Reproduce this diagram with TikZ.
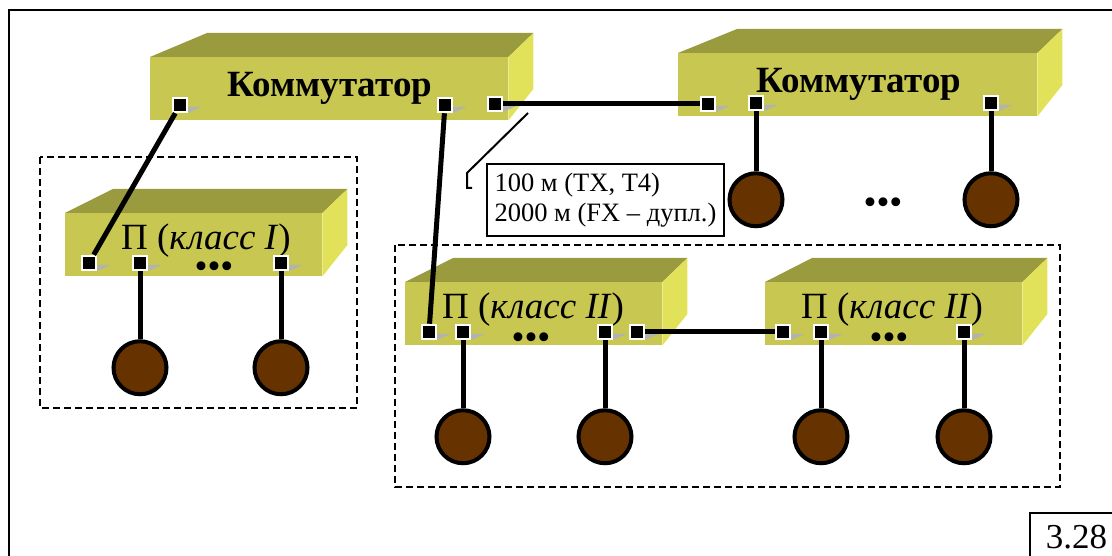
\documentclass[tikz,border=0pt]{standalone}
\usepackage{fontspec}
\setmainfont{Liberation Serif}
\usepackage{tikz}
\usetikzlibrary{positioning}

\definecolor{boxfront}{RGB}{199,199,82}
\definecolor{boxtop}{RGB}{154,154,62}
\definecolor{boxside}{RGB}{226,226,90}
\definecolor{hostfill}{RGB}{102,51,0}

% top and right faces of a 3D box; #1 front node, #2 depth at the left
\newcommand{\hubfaces}[2]{%
  \fill[boxtop] (#1.north west) -- ++(#2,-24) -- ([shift={(25,-24)}]#1.north east)
    -- (#1.north east) -- cycle;
  \fill[boxside] (#1.north east) -- ++(25,-24) -- ++(0,56) -- (#1.south east) -- cycle;
}

\begin{document}
\begin{tikzpicture}[x=1pt, y=-1pt, node distance=68pt,
  hub/.style={fill=boxfront, anchor=north west, minimum height=63pt, inner sep=0pt},
  title/.style={anchor=base, inner sep=0pt, font=\fontsize{37}{44}\selectfont},
  heading/.style={title, font=\fontsize{37}{44}\selectfont\bfseries},
  ellip/.style={anchor=base, inner sep=0pt, font=\fontsize{37}{44}\selectfont},
  port/.style={fill=black, draw=white, line width=2.5pt, minimum size=14pt, inner sep=0pt},
  host/.style={circle, fill=hostfill, draw=black, line width=4pt, minimum size=53pt, inner sep=0pt},
  wire/.style={line width=5pt},
  zone/.style={draw, line width=1.5pt, dash pattern=on 7pt off 4pt}]
  \useasboundingbox (0,0) rectangle (1112,556);
  \clip (0,0) rectangle (1112,556);
  \draw[line width=2pt] (9,10) rectangle (1140,600);

  % dashed groups
  \draw[zone] (40,157) rectangle (357,408);
  \draw[zone] (395,245) rectangle (1060,487);

  % switches
  \node (sw1) [hub, minimum width=358pt] at (150,57) {};
  \hubfaces{sw1}{57}
  \node (sw1t) [heading] at (330,97) {Коммутатор};
  \node (sw1a) [port] at (180,105) {};
  \node (sw1b) [port] at (445,105) {};
  \node (sw1c) [port] at (495,104) {};

  \node (sw2) [hub, minimum width=359pt] at (678,53) {};
  \hubfaces{sw2}{59}
  \node (sw2t) [heading] at (859,93) {Коммутатор};
  \node (sw2dots) [ellip] at (883,215) {•••};
  \node (sw2a) [port] at (708,104) {};
  \node (sw2b) [port] at (756,103) {};
  \node (sw2c) [port] at (991,103) {};

  % hubs
  \node (p1) [hub, minimum width=257pt] at (65,213) {};
  \hubfaces{p1}{48}
  \node (p1t) [title] at (206,250) {П (\textit{класс I})};
  \node (p1dots) [ellip] at (214,279) {•••};
  \node (p1a) [port] at (89,263) {};
  \node (p1b) [port] at (140,263) {};
  \node (p1c) [port] at (281,263) {};

  \node (p2) [hub, minimum width=257pt] at (405,282) {};
  \hubfaces{p2}{48}
  \node (p2t) [title] at (533,319) {П (\textit{класс II})};
  \node (p2dots) [ellip] at (531,349) {•••};
  \node (p2a) [port] at (429,332) {};
  \node (p2b) [port] at (463,332) {};
  \node (p2c) [port] at (605,332) {};
  \node (p2d) [port] at (637,332) {};

  \node (p3) [hub, minimum width=257pt] at (765,282) {};
  \hubfaces{p3}{47}
  \node (p3t) [title] at (892,319) {П (\textit{класс II})};
  \node (p3dots) [ellip] at (889,349) {•••};
  \node (p3a) [port] at (783,332) {};
  \node (p3b) [port] at (821,332) {};
  \node (p3c) [port] at (964,332) {};

  \foreach \p in {sw1a,sw1b,sw1c,sw2a,sw2b,sw2c,p1a,p1b,p1c,p2a,p2b,p2c,p2d,p3a,p3b,p3c}
    \fill[gray!60] ([yshift=-2pt]\p.east) -- ++(13,0) -- ++(-13,6) -- cycle;

  % stations
  \node (h0a) [host, below=60pt of sw2b] {};
  \node (h0b) [host, below=60pt of sw2c] {};
  \node (h1a) [host, below=of p1b] {};
  \node (h1b) [host, below=of p1c] {};
  \node (h2a) [host, below=of p2b] {};
  \node (h2b) [host, below=of p2c] {};
  \node (h3a) [host, below=of p3b] {};
  \node (h3b) [host, below=of p3c] {};

  \draw[wire] (sw1c) -- (sw2a);
  \draw[wire] (sw1a) -- (p1a);
  \draw[wire] (sw1b) -- (p2a);
  \draw[wire] (p2d) -- (p3a);
  \draw[wire] (sw2b) -- (h0a);
  \draw[wire] (sw2c) -- (h0b);
  \draw[wire] (p1b) -- (h1a);
  \draw[wire] (p1c) -- (h1b);
  \draw[wire] (p2b) -- (h2a);
  \draw[wire] (p2c) -- (h2b);
  \draw[wire] (p3b) -- (h3a);
  \draw[wire] (p3c) -- (h3b);

  % cable length note
  \coordinate (ctip) at (528,113);
  \draw[line width=2pt] (ctip) -- ++(-61,60) -- ++(0,15) -- ++(5,0);
  \node (len) [draw, line width=2pt, anchor=north west, minimum width=237pt,
               minimum height=72pt, inner xsep=6pt, align=left,
               font=\fontsize{26.5}{30}\selectfont] at (486,163)
    {100 м (TX, T4)\\2000 м (FX – дупл.)};

  \node (fig) [draw, line width=1.5pt, anchor=north west, inner sep=0pt, inner xsep=16pt,
               text width=100pt, text height=36pt, text depth=40pt,
               font=\fontsize{35}{40}\selectfont] at (1029,512) {3.28};
\end{tikzpicture}
\end{document}
